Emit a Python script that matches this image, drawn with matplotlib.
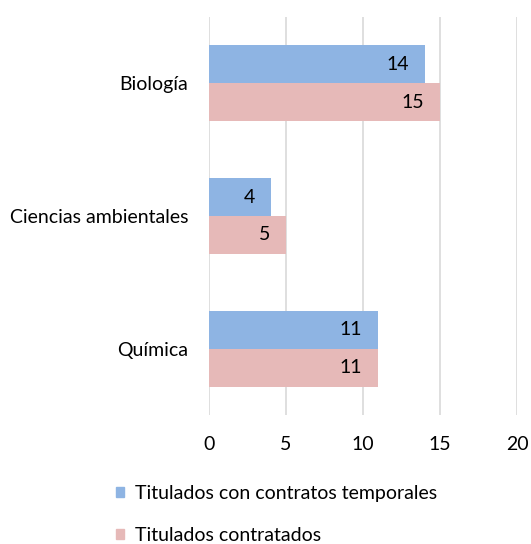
import matplotlib
matplotlib.use("Agg")
import matplotlib.pyplot as plt
import numpy as np
from matplotlib.patches import Patch

categories = ["Biología", "Ciencias ambientales", "Química"]
temporales = [14, 4, 11]
contratados = [15, 5, 11]
series_names = ["Titulados con contratos temporales", "Titulados contratados"]
xticks = [0, 5, 10, 15, 20]

blue = "#8EB4E3"
pink = "#E6B9B8"
FONT = "Lato"
FS = 14

fig = plt.figure(figsize=(5.31, 5.44), dpi=100)
ax = fig.add_axes([209/531, 1-415/544, (517-209)/531, (415-17)/544])

y = np.arange(len(categories))
h = 0.286
b1 = ax.barh(y - h/2, temporales, height=h, color=blue, zorder=2)
b2 = ax.barh(y + h/2, contratados, height=h, color=pink, zorder=2)

for bars, vals in ((b1, temporales), (b2, contratados)):
    for r, v in zip(bars, vals):
        ax.annotate(str(v), (r.get_width(), r.get_y() + r.get_height()/2),
                    xytext=(-11.5, 0), textcoords="offset points",
                    ha="right", va="center", fontsize=FS, family=FONT, color="#000000")

ax.set_xlim(0, 20)
ax.set_ylim(2.5, -0.5)
ax.set_xticks(xticks)
ax.set_xticklabels([str(t) for t in xticks], fontsize=FS, family=FONT)
ax.set_yticks(y)
ax.set_yticklabels(categories, fontsize=FS, family=FONT)
ax.tick_params(length=0)
ax.tick_params(axis="x", pad=15)
ax.tick_params(axis="y", pad=15)
ax.grid(axis="x", color="#D9D9D9", linewidth=1.2, zorder=0)
for s in ax.spines.values():
    s.set_visible(False)

handles = [Patch(color=blue), Patch(color=pink)]
fig.legend(handles, series_names, loc="upper left", bbox_to_anchor=(116/531, 1-485/544),
           frameon=False, prop={"family": FONT, "size": FS}, borderpad=0, borderaxespad=0,
           handlelength=0.42, handleheight=0.42, handletextpad=0.55, labelspacing=1.3)

fig.savefig("out.png", dpi=100)
